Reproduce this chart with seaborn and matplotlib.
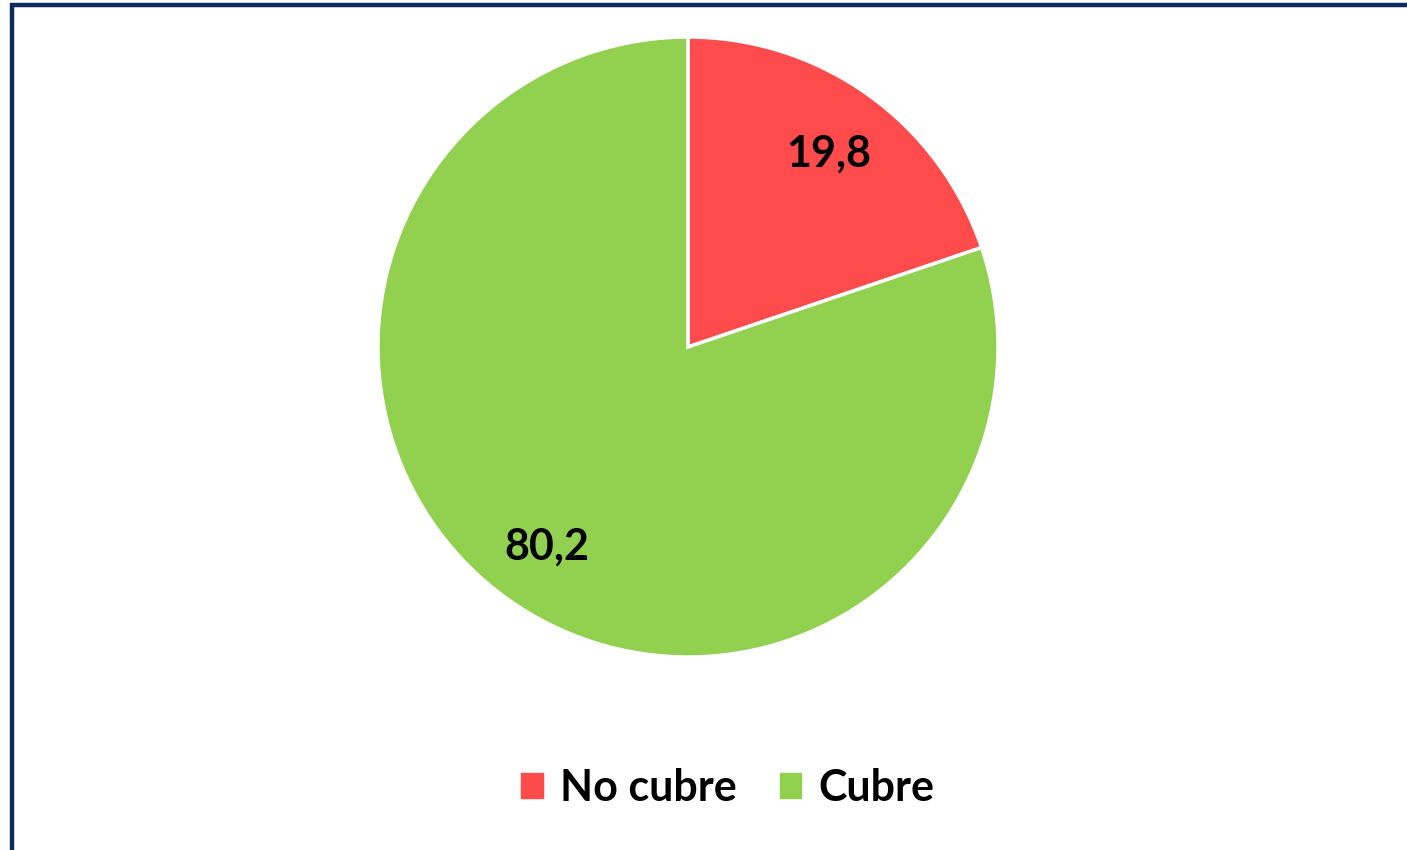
import matplotlib
matplotlib.use("Agg")
import matplotlib.pyplot as plt
from matplotlib.patches import Rectangle
import numpy as np
import seaborn as sns

categories = ["No cubre", "Cubre"]
values = [19.8, 80.2]
value_labels = ["19,8", "80,2"]
colors = ["#FF4B4B", "#92D050"]

sns.set_theme(style="white")
plt.rcParams["font.family"] = ["Lato", "DejaVu Sans"]
palette = sns.color_palette(colors)

W, H = 1407, 850
fig = plt.figure(figsize=(W / 100, H / 100), dpi=100)
fig.patch.set_facecolor("white")

# pie centre around (688, 347) px, radius ~310 px
cx, cy, r = 688, 347, 310
ax = fig.add_axes([(cx - r) / W, (H - cy - r) / H, 2 * r / W, 2 * r / H])
wedges, texts = ax.pie(values, colors=palette, startangle=90, counterclock=False,
                       wedgeprops=dict(edgecolor="white", linewidth=2.5))
ax.set_xlim(-1.0, 1.0)
ax.set_ylim(-1.0, 1.0)
ax.set_aspect("equal")
ax.axis("off")

for w, lab in zip(wedges, value_labels):
    mid = np.deg2rad((w.theta1 + w.theta2) / 2)
    ax.text(0.78 * np.cos(mid), 0.78 * np.sin(mid) - 0.01, lab, ha="center", va="center",
            fontsize=31, fontweight="bold", color="black")

handles = [plt.Rectangle((0, 0), 1, 1, color=c) for c in palette]
fig.legend(handles, categories, loc="center", bbox_to_anchor=(728 / W, 1 - 788 / H),
           ncol=2, frameon=False, handlelength=0.5, handleheight=0.5,
           handletextpad=0.4, columnspacing=1.0, labelcolor="black",
           prop=dict(family=["Lato", "DejaVu Sans"], weight="bold", size=31))

# dark frame, visible on left and top edges only
fig.patches.append(Rectangle((12 / W, -0.1), 1.2, 1.1 - 5 / H, transform=fig.transFigure,
                             fill=False, edgecolor="#0D2A5C", linewidth=3.2))

fig.savefig("out.png", dpi=100, facecolor="white")
